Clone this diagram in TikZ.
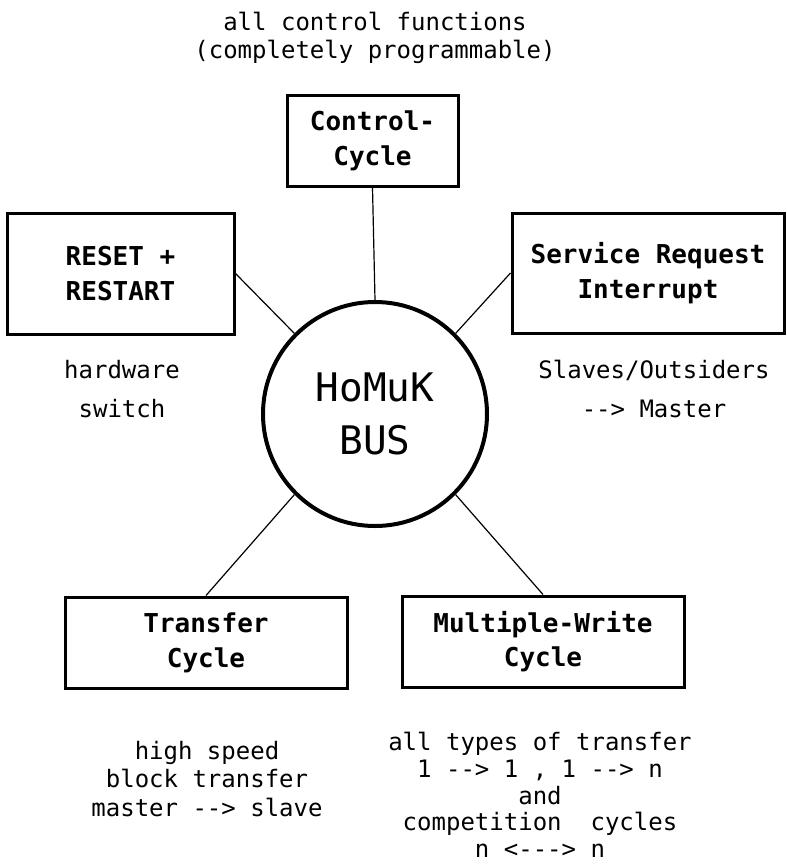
\documentclass[tikz,border=0pt]{standalone}
\usepackage{fontspec}
\setmonofont{DejaVu Sans Mono}
\begin{document}
\begin{tikzpicture}[x=0.75pt, y=-0.75pt,
box/.style={draw, line width=2.25pt, align=center, inner sep=0pt,
  font=\ttfamily\bfseries\fontsize{19.5}{26}\selectfont},
note/.style={align=center, font=\ttfamily\fontsize{18}{21.5}\selectfont},
link/.style={line width=0.9pt},
]
\useasboundingbox (0,0) rectangle (786,864);
% the bus in the middle
\node [circle, draw, line width=3pt, minimum size=168pt, inner sep=0pt, align=center,
  font=\ttfamily\fontsize{29.5}{40}\selectfont] (bus) at (375,414) {HoMuK\\BUS};

% the cycles round it
\node [box, minimum width=128.25pt, minimum height=68.25pt] (ctrl) at (372.5,140.5) {Control-\\Cycle};
\node [box, minimum width=170.25pt, minimum height=90.75pt] (reset) at (120.5,273.5) {RESET +\\RESTART};
\node [box, minimum width=204pt, minimum height=90pt] (srq) at (648,273) {Service Request\\Interrupt};
\node [box, minimum width=211.5pt, minimum height=68.25pt] (trans) at (206,642.5) {Transfer\\Cycle};
\node [box, minimum width=211.5pt, minimum height=68.25pt] (mw) at (543,641.5) {Multiple-Write\\Cycle};

% what each one does
\node [note] (ctrlnote) at (375,38) {all control functions\\(completely programmable)};
\node [note] (resetnote) at (122,389) {hardware\\[8pt]switch};
\node [note] (srqnote) at (654,389) {Slaves/Outsiders\\[8pt]--> Master};
\node [note] (transnote) at (207,779) {high speed\\block transfer\\master --> slave};
\node [note, font=\ttfamily\fontsize{18}{20}\selectfont] (mwnote) at (540,795)
  {all types of transfer\\1 --> 1 , 1 --> n\\and\\competition\ \ cycles\\n <---> n};

\draw [link] (ctrl.south) -- (bus.north);
\draw [link] (reset.east) -- (bus.135);
\draw [link] (srq.west) -- (bus.45);
\draw [link] (trans.north) -- (bus.225);
\draw [link] (mw.north) -- (bus.315);
\end{tikzpicture}
\end{document}
